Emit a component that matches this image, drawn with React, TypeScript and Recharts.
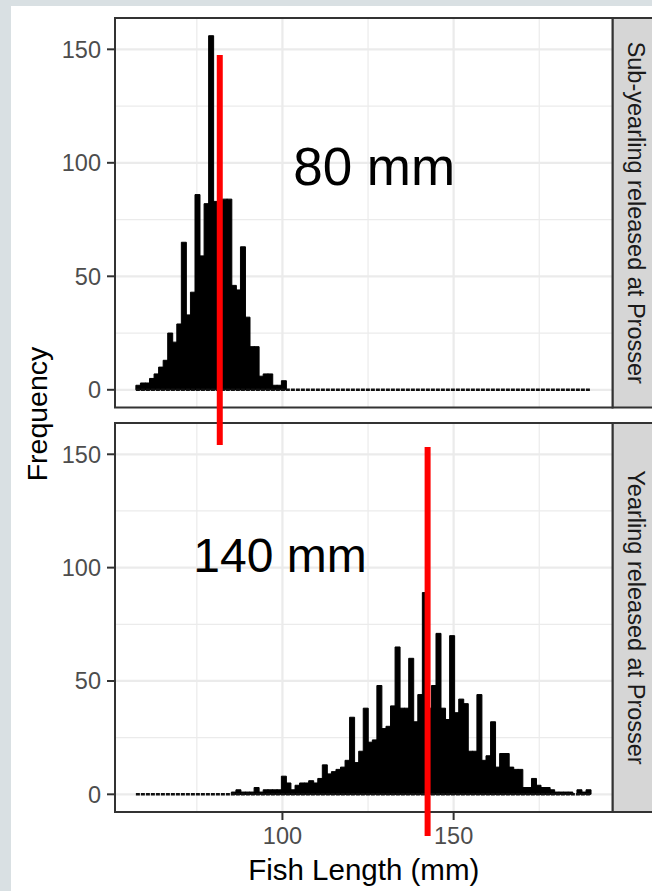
import React from 'react';
import {
  ComposedChart,
  Bar,
  XAxis,
  YAxis,
  CartesianGrid,
  ReferenceLine,
  ReferenceDot,
  ReferenceArea,
} from 'recharts';

// ---- data ----
const BIN_START = 57.2;
const BIN_WIDTH = 1.328;

const subYearlingCounts = [
  2, 3, 3, 5, 7, 10, 13, 25, 21, 29,
  65, 33, 43, 86, 59, 82, 156, 83, 83, 84,
  84, 46, 44, 63, 32, 19, 19, 6, 7, 7,
  2, 2, 4, 0, 0, 0, 0, 0, 0, 0,
  0, 0, 0, 0, 0, 0, 0, 0, 0, 0,
  0, 0, 0, 0, 0, 0, 0, 0, 0, 0,
  0, 0, 0, 0, 0, 0, 0, 0, 0, 0,
  0, 0, 0, 0, 0, 0, 0, 0, 0, 0,
  0, 0, 0, 0, 0, 0, 0, 0, 0, 0,
  0, 0, 0, 0, 0, 0, 0, 0, 0, 0,
];

const yearlingCounts = [
  0, 0, 0, 0, 0, 0, 0, 0, 0, 0,
  0, 0, 0, 0, 0, 0, 0, 0, 0, 0,
  0, 1, 2, 1, 1, 1, 3, 1, 2, 2,
  2, 2, 8, 5, 2, 4, 5, 5, 6, 5,
  7, 13, 9, 10, 11, 12, 15, 34, 14, 19,
  38, 23, 24, 48, 29, 30, 39, 65, 38, 38,
  60, 32, 44, 89, 38, 48, 71, 38, 33, 70,
  36, 42, 40, 19, 19, 44, 15, 17, 32, 12,
  18, 18, 12, 11, 11, 3, 3, 7, 4, 3,
  3, 2, 1, 1, 1, 1, 0, 2, 1, 2,
];

const panelLabels = ['Sub-yearling released at Prosser', 'Yearling released at Prosser'];
const meanLabels = ['80 mm', '140 mm'];
const meanLengths = [81.7, 142.4];
const xTicks = [100, 150];
const xMinorTicks = [75, 125, 175];
const yTicks = [0, 50, 100, 150];
const yMinorTicks = [25, 75, 125];
const X_DOMAIN: [number, number] = [51.1, 196.4];
const Y_DOMAIN: [number, number] = [-7.8, 163.8];

const toBins = (counts: number[]) =>
  counts.map((count, i) => ({ x: BIN_START + (i + 0.5) * BIN_WIDTH, count }));

const subData = toBins(subYearlingCounts);
const yearData = toBins(yearlingCounts);
const BIN_END = BIN_START + subYearlingCounts.length * BIN_WIDTH;

// ---- styles ----
const FONT = '"Liberation Sans", Arial, Helvetica, sans-serif';
const BORDER = '#333333';
const GRID = '#ebebeb';
const TICK_TEXT = { fontSize: 23.5, fill: '#4d4d4d', fontFamily: FONT };

const Grids = () => [
  <CartesianGrid
    key="minor"
    fill="#ffffff"
    stroke={GRID}
    strokeWidth={1.2}
    horizontalValues={yMinorTicks}
    verticalValues={xMinorTicks}
  />,
];

function Panel({
  data,
  height,
  top,
  marginTop,
  marginBottom,
  showX,
  lineTop,
  lineBottom,
  meanX,
  label,
  labelX,
  labelY,
  labelSize,
}: any) {
  return (
    <div style={{ position: 'absolute', left: 0, top }}>
      <ComposedChart
        width={652}
        height={height}
        data={data}
        margin={{ top: marginTop, right: 39.5, bottom: marginBottom, left: 55 }}
        barCategoryGap={0}
        barGap={0}
      >
        <CartesianGrid
          fill="#ffffff"
          stroke={GRID}
          strokeWidth={1.2}
          horizontalValues={yMinorTicks}
          verticalValues={xMinorTicks}
        />
        <CartesianGrid
          fill="none"
          stroke={GRID}
          strokeWidth={2.2}
          horizontalValues={yTicks}
          verticalValues={xTicks}
        />
        <XAxis
          dataKey="x"
          type="number"
          domain={X_DOMAIN}
          allowDataOverflow
          ticks={xTicks}
          hide={!showX}
          height={30}
          tickSize={8}
          tickMargin={7}
          axisLine={false}
          tickLine={{ stroke: BORDER, strokeWidth: 2 }}
          tick={TICK_TEXT}
          interval={0}
        />
        <YAxis
          type="number"
          domain={Y_DOMAIN}
          allowDataOverflow
          ticks={yTicks}
          width={60}
          tickSize={8}
          tickMargin={6}
          axisLine={false}
          tickLine={{ stroke: BORDER, strokeWidth: 2 }}
          tick={TICK_TEXT}
          interval={0}
        />
        <ReferenceLine
          segment={[
            { x: BIN_START, y: 0 },
            { x: BIN_END, y: 0 },
          ]}
          stroke="#111111"
          strokeWidth={2.4}
          strokeDasharray="4 1"
          ifOverflow="visible"
        />
        <Bar
          dataKey="count"
          fill="#000000"
          stroke="#000000"
          strokeWidth={1}
          isAnimationActive={false}
        />
        <ReferenceArea
          x1={X_DOMAIN[0]}
          x2={X_DOMAIN[1]}
          y1={Y_DOMAIN[0]}
          y2={Y_DOMAIN[1]}
          fill="none"
          fillOpacity={0}
          stroke={BORDER}
          strokeWidth={2}
          ifOverflow="visible"
        />
        <ReferenceDot
          x={labelX}
          y={labelY}
          r={0}
          fill="none"
          stroke="none"
          ifOverflow="visible"
          label={{
            value: label,
            position: 'center',
            fontSize: labelSize,
            fill: '#000000',
            fontFamily: FONT,
          }}
        />
        <ReferenceLine
          segment={[
            { x: meanX, y: lineTop },
            { x: meanX, y: lineBottom },
          ]}
          stroke="#ff0000"
          strokeWidth={6}
          ifOverflow="visible"
        />
      </ComposedChart>
    </div>
  );
}

export default function App() {
  return (
    <div
      style={{
        position: 'absolute',
        left: 0,
        top: 0,
        width: 652,
        height: 891,
        background: '#d9e0e3',
        overflow: 'hidden',
        fontFamily: FONT,
      }}
    >
      <div
        style={{
          position: 'absolute',
          left: 11,
          top: 6,
          width: 641,
          height: 885,
          background: '#ffffff',
        }}
      />
      <svg
        width={652}
        height={891}
        style={{ position: 'absolute', left: 0, top: 0 }}
      >
        <rect x={612.5} y={18} width={60} height={389.5} fill="#d6d6d6" stroke={BORDER} strokeWidth={2} />
        <rect x={612.5} y={423} width={60} height={389} fill="#d6d6d6" stroke={BORDER} strokeWidth={2} />
        <text
          x={628}
          y={212.75}
          transform="rotate(90 628 212.75)"
          textAnchor="middle"
          fontSize={23.5}
          fill="#1a1a1a"
          fontFamily={FONT}
        >
          {panelLabels[0]}
        </text>
        <text
          x={628}
          y={617.5}
          transform="rotate(90 628 617.5)"
          textAnchor="middle"
          fontSize={23.5}
          fill="#1a1a1a"
          fontFamily={FONT}
        >
          {panelLabels[1]}
        </text>
        <text
          x={47}
          y={414}
          transform="rotate(-90 47 414)"
          textAnchor="middle"
          fontSize={28.5}
          fill="#000000"
          fontFamily={FONT}
        >
          Frequency
        </text>
        <text x={363.75} y={880} textAnchor="middle" fontSize={29.5} fill="#000000" fontFamily={FONT}>
          Fish Length (mm)
        </text>
      </svg>
      <Panel
        data={yearData}
        height={491}
        top={400}
        marginTop={23}
        marginBottom={49}
        showX
        lineTop={153.2}
        lineBottom={-18.4}
        meanX={meanLengths[1]}
        label={meanLabels[1]}
        labelX={99.3}
        labelY={105.6}
        labelSize={48}
      />
      <Panel
        data={subData}
        height={460}
        top={0}
        marginTop={18}
        marginBottom={52.5}
        showX={false}
        lineTop={147.5}
        lineBottom={-24.3}
        meanX={meanLengths[0]}
        label={meanLabels[0]}
        labelX={126.8}
        labelY={98.6}
        labelSize={53}
      />
    </div>
  );
}
